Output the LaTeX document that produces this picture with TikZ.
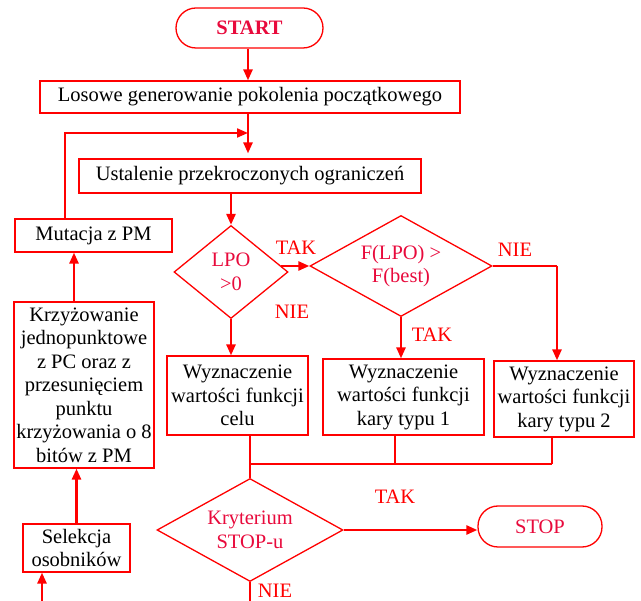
\documentclass[tikz,border=0pt]{standalone}
\usepackage{fontspec}
\setmainfont{Liberation Serif}
\usetikzlibrary{shapes.geometric,arrows.meta,calc}
\definecolor{lred}{RGB}{255,0,0}
\definecolor{crim}{RGB}{232,10,60}
\begin{document}
\begin{tikzpicture}[x=1pt,y=-1pt,
  every node/.style={font=\fontsize{20.5}{23.5}\selectfont, inner sep=0pt, align=center},
  box/.style={draw=lred, line width=1.2pt, rectangle},
  term/.style={draw=lred, line width=1.3pt, rounded corners=20pt, rectangle, text=crim},
  dia/.style={draw=lred, line width=1.3pt, diamond},
  lab/.style={text=lred},
  arr/.style={draw=lred, line width=2.5pt, -{Triangle[length=11pt,width=9pt]}},
  thinln/.style={draw=lred, line width=1.5pt},
  loopln/.style={draw=lred, line width=2pt, -{Triangle[length=11pt,width=9pt]}},
]
\useasboundingbox (0,0) rectangle (641,601);

% nodes
\node[term, minimum width=147pt, minimum height=40pt, font=\bfseries\fontsize{20.5}{23.5}\selectfont] (start) at (249.5,28) {START};
\node[box, minimum width=420pt, minimum height=32pt] (los) at (250,97) {Losowe generowanie pokolenia początkowego};
\node[box, minimum width=342pt, minimum height=34pt] (ust) at (250,176) {Ustalenie przekroczonych ograniczeń};
\node[box, minimum width=157pt, minimum height=33pt] (mut) at (93.5,235.5) {Mutacja z PM};
\node[box, minimum width=140pt, minimum height=166pt] (krz) at (84,385) {Krzyżowanie\\jednopunktowe\\z PC oraz z\\przesunięciem\\punktu\\krzyżowania o 8\\bitów z PM};
\node[box, minimum width=107pt, minimum height=48pt] (sel) at (76.5,548) {Selekcja\\osobników};

\node[dia, minimum width=114pt, minimum height=93pt, label={[text=crim]center:{LPO\\>0}}] (lpo) at (231,272) {};
\node[dia, minimum width=182pt, minimum height=101pt, label={[text=crim]center:{F(LPO) >\\F(best)}}] (f) at (401,266) {};

\node[box, minimum width=141pt, minimum height=79pt] (celu) at (237.5,395.5) {Wyznaczenie\\wartości funkcji\\celu};
\node[box, minimum width=161pt, minimum height=76pt] (k1) at (403.5,397) {Wyznaczenie\\wartości funkcji\\kary typu 1};
\node[box, minimum width=140pt, minimum height=76pt] (k2) at (564,399) {Wyznaczenie\\wartości funkcji\\kary typu 2};

\node[dia, minimum width=186pt, minimum height=103pt, label={[text=crim]center:{Kryterium\\STOP-u}}] (krit) at (250,530) {};
\node[term, minimum width=124pt, minimum height=41pt] (stop) at (540,526.5) {STOP};

% labels
\node[lab] (t1) at (296,248) {TAK};
\node[lab] (n1) at (292,312) {NIE};
\node[lab] (n2) at (515,250) {NIE};
\node[lab] (t2) at (432,335) {TAK};
\node[lab] (t3) at (395,497) {TAK};
\node[lab] (n3) at (275,591) {NIE};

% coordinates
\coordinate (m1) at (248,133);
\coordinate (lp) at (65,133);
\coordinate (c2) at (557,266);
\coordinate (j) at (250,464);
\coordinate (j1) at (395,464);
\coordinate (j2) at (552,464);
\coordinate (bot) at (250,601);
\coordinate (entry) at (42,601);
\coordinate (ka) at ($(krz.north)+(-10,0)$);

% connectors
\draw[arr] (start.south -| m1) -- (los.north -| m1);
\draw[arr, shorten >=5pt] (los.south -| m1) -- (ust.north -| m1);
\draw[loopln] (mut.north -| lp) -- (lp) -- (m1);
\draw[arr] (ust.south -| lpo) -- (lpo.north);
\draw[arr] (lpo.7 |- f.west) -- (f.west);
\draw[arr] (lpo.south) -- (lpo.south |- celu.north);
\draw[arr] (f.south) -- (f.south |- k1.north);
\draw[thinln] (f.east) -- (c2);
\draw[arr] (c2) -- (c2 |- k2.north);
\draw[thinln] (celu.south -| j) -- (krit.north);
\draw[thinln] (k1.south -| j1) -- (j1);
\draw[thinln] (k2.south -| j2) -- (j2);
\draw[thinln] (j) -- (j2);
\draw[arr] (krit.east) -- (stop.west |- krit.east);
\draw[thinln] (krit.south) -- (bot);
\draw[arr] (entry) -- (entry |- sel.south);
\draw[arr] (sel.north) -- (sel.north |- krz.south);
\draw[arr] (ka) -- (ka |- mut.south);
\end{tikzpicture}
\end{document}
